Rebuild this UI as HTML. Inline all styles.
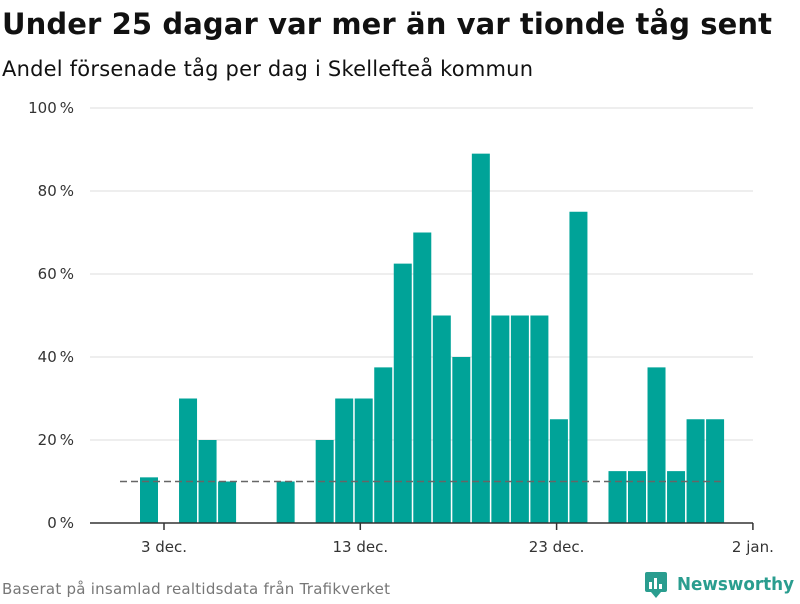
<!DOCTYPE html>
<html><head><meta charset="utf-8"><style>
body{margin:0;background:#fff;width:800px;height:600px;overflow:hidden;font-family:"DejaVu Sans",sans-serif}
</style></head><body>
<svg width="800" height="600" xmlns="http://www.w3.org/2000/svg" font-family="DejaVu Sans, sans-serif">
<text x="2" y="34" font-size="29" font-weight="bold" fill="#111" textLength="770">Under 25 dagar var mer än var tionde tåg sent</text>
<text x="2" y="76" font-size="21" fill="#111" textLength="531">Andel försenade tåg per dag i Skellefteå kommun</text>
<g id="grid"></g><g id="bars"></g><g id="axes"></g>
<text x="2" y="594" font-size="15" fill="#777" textLength="388">Baserat på insamlad realtidsdata från Trafikverket</text>
<g>
<rect x="645" y="572" width="22" height="20" rx="2" fill="#2a9d8f"/>
<polygon points="651,592 661,592 656,598" fill="#2a9d8f"/>
<rect x="649" y="582" width="3" height="7" fill="#fff"/><rect x="654" y="578" width="3" height="11" fill="#fff"/><rect x="659" y="584" width="3" height="5" fill="#fff"/>
<text x="677" y="590" font-size="18" font-weight="bold" fill="#2a9d8f" textLength="117" lengthAdjust="spacingAndGlyphs">Newsworthy</text>
</g>
</svg>
<script>
const days=[2,4,5,6,9,11,12,13,14,15,16,17,18,19,20,21,22,23,24,26,27,28,29,30,31];
const values=[11,30,20,10,10,20,30,30,37.5,62.5,70,50,40,89,50,50,50,25,75,12.5,12.5,37.5,12.5,25,25];
const yTicks=[0,20,40,60,80,100];
const xTickDays=[3,13,23,33];
const xTickLabels=["3 dec.","13 dec.","23 dec.","2 jan."];
const threshold=[10];
const NS="http://www.w3.org/2000/svg";
const y=v=>523-v*4.15;
const x=d=>164+(d-3)*19.63;
const xb=d=>149+(d-2)*19.52;
function mk(t,a,p){const e=document.createElementNS(NS,t);for(const k in a)e.setAttribute(k,a[k]);p.appendChild(e);return e;}
const grid=document.getElementById('grid'),bars=document.getElementById('bars'),axes=document.getElementById('axes');
yTicks.forEach(v=>{
 if(v>0){const l=mk('line',{x1:90,x2:753,y1:y(v),y2:y(v),stroke:'#ddd','stroke-width':1},grid);
 
 }
 const t=mk('text',{x:74,y:y(v)+5,'font-size':15,fill:'#333','text-anchor':'end'},axes);t.textContent=v+'\u2009%';
 
 
});
days.forEach((d,i)=>{
 const r=mk('rect',{x:xb(d)-9,y:y(values[i]),width:18,height:y(0)-y(values[i]),fill:'#00a398'},bars);
 
 
});
const dl=mk('line',{x1:120,x2:722,y1:y(threshold[0]),y2:y(threshold[0]),stroke:'#666','stroke-width':1.6,'stroke-dasharray':'7,4'},axes);


const ax=mk('line',{x1:90,x2:753,y1:523,y2:523,stroke:'#333','stroke-width':1.5},axes);


xTickDays.forEach((d,i)=>{
 const tk=mk('line',{x1:x(d),x2:x(d),y1:523,y2:530,stroke:'#333','stroke-width':1.5},axes);
 
 
 const t=mk('text',{x:x(d),y:552,'font-size':15,fill:'#333','text-anchor':'middle'},axes);t.textContent=xTickLabels[i];
 
 
});
</script>
</body></html>
